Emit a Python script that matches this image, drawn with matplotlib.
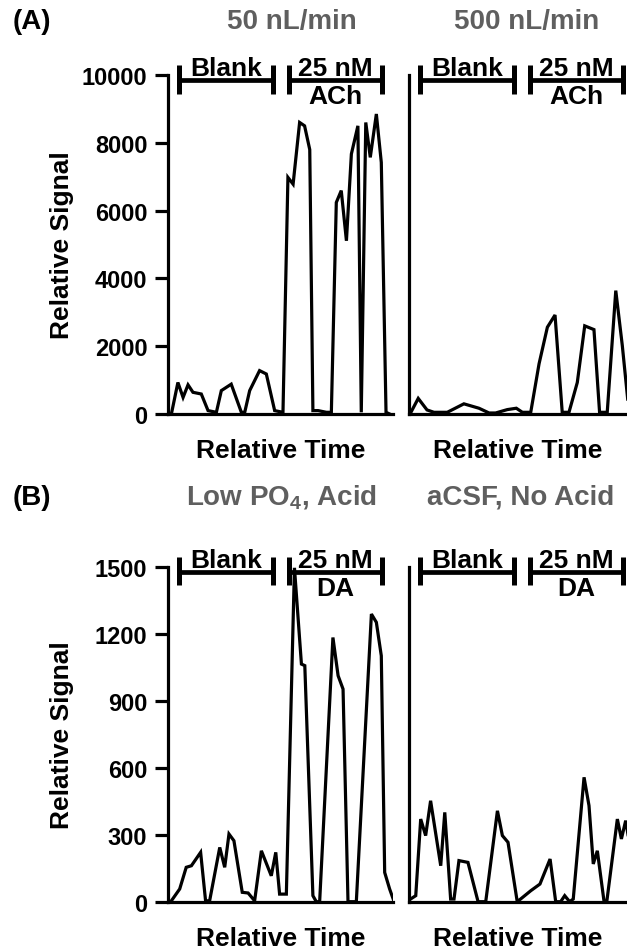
import matplotlib
matplotlib.use("Agg")
import matplotlib.pyplot as plt

plt.rcParams['font.family'] = ['Liberation Sans', 'DejaVu Sans']
plt.rcParams['font.weight'] = 'bold'
plt.rcParams['axes.labelweight'] = 'bold'
plt.rcParams['mathtext.fontset'] = 'custom'
plt.rcParams['mathtext.rm'] = 'Liberation Sans:bold'
plt.rcParams['mathtext.bf'] = 'Liberation Sans:bold'

# (A) ACh, 50 nL/min
a_slow_t = [1.5, 4.4, 6.7, 8.9, 11.1, 14.8, 17.8, 21.5, 23.7, 28.1, 32.6, 34.1, 36.3, 40.7, 43.7,
            47.4, 51.1, 53.3, 55.6, 58.5, 60.7, 63.0, 64.4, 66.7, 70.4, 72.6, 74.8, 77.0, 79.3,
            81.5, 84.4, 85.9, 87.9, 89.9, 92.6, 94.8, 96.9, 98.5]
a_slow_v = [0, 930, 490, 860, 640, 590, 100, 50, 690, 880, 50, 50, 690, 1280, 1180,
            100, 50, 6980, 6780, 8600, 8500, 7800, 100, 100, 50, 50, 6240, 6590, 5110,
            7670, 8500, 50, 8600, 7570, 8850, 7420, 50, 0]

# (A) ACh, 500 nL/min
a_fast_t = [0.7, 4.1, 8.0, 11.1, 17.0, 24.4, 31.1, 35.6, 38.5, 43.7, 47.7, 50.4, 54.1, 57.8,
            61.5, 64.9, 68.1, 71.1, 74.8, 78.1, 82.2, 84.7, 88.1, 91.9, 94.8, 97.2]
a_fast_v = [30, 460, 120, 50, 50, 300, 170, 30, 30, 130, 170, 50, 50, 1480,
            2560, 2920, 50, 50, 930, 2600, 2490, 50, 50, 3640, 2020, 440]

# (B) DA, low PO4 with acid
b_acid_t = [1.5, 5.2, 8.1, 10.4, 14.5, 16.7, 18.5, 23.0, 25.2, 27.1, 29.3, 33.0, 35.6, 38.5,
            41.5, 45.9, 47.9, 49.6, 52.6, 56.2, 59.3, 60.8, 64.4, 65.9, 67.4, 73.3, 75.6,
            77.8, 80.0, 83.7, 90.4, 92.6, 94.8, 96.3, 98.5, 100.5]
b_acid_v = [4, 57, 154, 161, 221, 4, 4, 243, 154, 303, 273, 42, 39, 4,
            228, 116, 221, 34, 34, 1495, 1064, 1057, 27, 0, 0, 1183, 1012,
            952, 0, 0, 1288, 1251, 1101, 131, 57, 0]

# (B) DA, aCSF no acid
b_acsf_t = [0.7, 3.0, 5.2, 7.4, 9.6, 14.1, 15.9, 18.5, 20.0, 22.2, 26.2, 30.7, 34.1, 39.3,
            41.5, 44.0, 48.1, 49.6, 54.1, 58.2, 62.7, 65.2, 67.4, 69.2, 71.4, 73.0, 77.8,
            80.0, 81.9, 83.7, 86.7, 87.9, 92.6, 94.4, 96.3, 97.5]
b_acsf_v = [12, 27, 370, 296, 452, 161, 400, 12, 12, 184, 176, 0, 0, 407,
            296, 266, 0, 12, 49, 79, 191, 0, 0, 27, 0, 12, 557,
            430, 169, 228, 0, 0, 370, 281, 363, 290]

a_ticks = [0, 2000, 4000, 6000, 8000, 10000]
b_ticks = [0, 300, 600, 900, 1200, 1500]

blank_span = (5.0, 46.5)
std_span = (53.8, 95.0)

gray = '#5f5f5f'

fig = plt.figure(figsize=(6.27, 9.53), dpi=100)
W, H = 627.0, 953.0


def make_ax(x0, x1, ytop, ybot):
    return fig.add_axes([x0 / W, 1 - ybot / H, (x1 - x0) / W, (ybot - ytop) / H])


def style(ax, left):
    for s in ['top', 'right']:
        ax.spines[s].set_visible(False)
    for s in ['left', 'bottom']:
        ax.spines[s].set_linewidth(2.3)
    ax.tick_params(axis='x', length=0, labelbottom=False)
    if left:
        ax.tick_params(axis='y', length=9.4, width=2.3, pad=5.5, labelsize=17)
    else:
        ax.tick_params(axis='y', length=0, labelleft=False)


def bracket(ax, span, top, bottom):
    tr = ax.get_xaxis_transform()
    x0, x1 = span
    ax.plot([x0, x1], [0.985, 0.985], color='black', lw=3.4, transform=tr,
            clip_on=False, solid_capstyle='butt')
    for x in span:
        ax.plot([x, x], [0.944, 1.03], color='black', lw=3.6, transform=tr,
                clip_on=False, solid_capstyle='butt')
    xc = (x0 + x1) / 2
    ax.annotate(top, xy=(xc, 0.985), xycoords=tr, xytext=(0, 3.5),
                textcoords='offset points', ha='center', va='baseline', fontsize=19)
    if bottom:
        ax.annotate(bottom, xy=(xc, 0.985), xycoords=tr, xytext=(0, -3),
                    textcoords='offset points', ha='center', va='top', fontsize=19)


panels = [
    (a_slow_t, a_slow_v, a_fast_t, a_fast_v, a_ticks, 76, 415, 'ACh'),
    (b_acid_t, b_acid_v, b_acsf_t, b_acsf_v, b_ticks, 567.7, 902.7, 'DA'),
]

for lt, lv, rt, rv, ticks, ytop, ybot, analyte in panels:
    axl = make_ax(168, 393, ytop, ybot)
    axr = make_ax(409, 627, ytop, ybot)
    for ax, t, v, left in [(axl, lt, lv, True), (axr, rt, rv, False)]:
        ax.plot(t, v, color='black', lw=2.3, solid_joinstyle='miter')
        ax.set_ylim(ticks[0], ticks[-1])
        ax.set_yticks(ticks)
        style(ax, left)
        bracket(ax, blank_span, 'Blank', None)
        bracket(ax, std_span, '25 nM', analyte)
        ax.set_xlabel('Relative Time', fontsize=19, va='center')
        ax.xaxis.set_label_coords(0.5, -(36.0 / (ybot - ytop)))
    axl.set_xlim(0, 100)
    axr.set_xlim(0, (627 - 409) / 2.25)
    axl.set_ylabel('Relative Signal', fontsize=19, va='center', ha='center')
    axl.yaxis.set_label_coords((62 - 168) / 225.0, 0.5)

fig.text(32 / W, 1 - 22 / H, '(A)', fontsize=20, ha='center', va='center')
fig.text(292 / W, 1 - 22 / H, '50 nL/min', fontsize=20, ha='center', va='center', color=gray)
fig.text(527 / W, 1 - 22 / H, '500 nL/min', fontsize=20, ha='center', va='center', color=gray)
fig.text(32 / W, 1 - 498 / H, '(B)', fontsize=20, ha='center', va='center')
fig.text(281 / W, 1 - 498 / H, r'Low PO$_\mathbf{4}$, Acid', fontsize=20, ha='center',
         va='center', color=gray)
fig.text(521 / W, 1 - 498 / H, 'aCSF, No Acid', fontsize=20, ha='center', va='center', color=gray)

fig.savefig('out.png', dpi=100)
